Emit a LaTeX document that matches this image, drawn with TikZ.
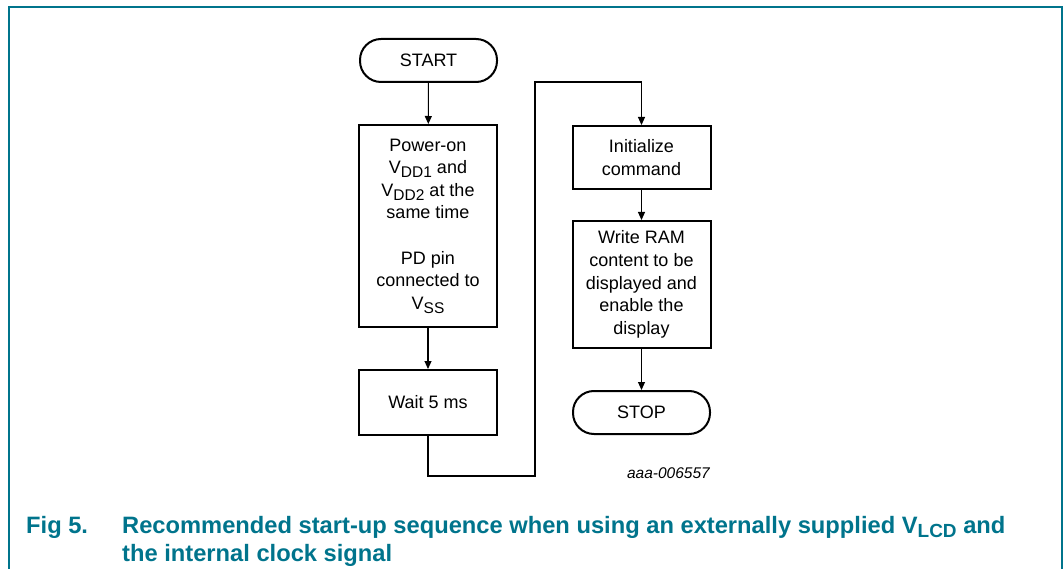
\documentclass[tikz,border=0pt]{standalone}
\usepackage{fontspec}
\setmainfont{Liberation Sans}
\usetikzlibrary{arrows.meta}
\definecolor{nxpteal}{RGB}{0,116,140}
\newcommand{\lsub}[1]{\raisebox{-4pt}{\fontsize{15.5pt}{15.5pt}\selectfont #1}}
\newcommand{\csub}[1]{\raisebox{-4.5pt}{\fontsize{19pt}{19pt}\selectfont #1}}
\begin{document}
\begin{tikzpicture}[x=1pt,y=-1pt,
  box/.style={draw=black,line width=2pt,inner sep=0pt,align=center,
    font=\fontsize{18pt}{22.6pt}\selectfont,minimum width=138pt},
  term/.style={box,rounded corners=21pt,minimum width=137pt,minimum height=43pt},
  conn/.style={draw=black,line width=1.1pt},
  arr/.style={conn,-{Triangle[length=8pt,width=7pt]}},
  captext/.style={anchor=base west,inner sep=0pt,text=nxpteal,font=\bfseries\fontsize{23.7pt}{28pt}\selectfont}]
\useasboundingbox (0,0) rectangle (1063,569);
\draw[nxpteal,line width=2pt] (8.5,569) -- (8.5,7.5) -- (1061.5,7.5) -- (1061.5,569);
\node[term] (start) at (428.5,60.5) {START};
\node[box,minimum height=202pt] (p1) at (428,226) {Power-on\\V\lsub{DD1} and\\V\lsub{DD2} at the\\same time\\[22.6pt]PD pin\\connected to\\V\lsub{SS}};
\node[box,minimum height=65pt] (wait) at (428,402.5) {Wait 5 ms};
\node[box,minimum height=63pt] (init) at (641.5,157.5) {Initialize\\command};
\node[box,minimum height=127pt] (write) at (641.5,284.5) {Write RAM\\content to be\\displayed and\\enable the\\display};
\node[term] (stop) at (641.5,412.5) {STOP};
\coordinate (c1) at (428,476);
\coordinate (c2) at (535,476);
\coordinate (c3) at (535,82);
\coordinate (c4) at (641.5,82);
\draw[arr] (start) -- (p1);
\draw[arr] (p1) -- (wait);
\draw[arr] (wait.south) -- (c1) -- (c2) -- (c3) -- (c4) -- (init.north);
\draw[arr] (init) -- (write);
\draw[arr] (write) -- (stop);
\node[anchor=east,inner sep=0pt,font=\fontsize{15.5pt}{15.5pt}\selectfont\itshape] (id) at (710,473) {aaa-006557};
\node[captext] (fig) at (26,533) {Fig 5.};
\node[captext] (cap1) at (122,533) {Recommended start-up sequence when using an externally supplied V\csub{LCD} and};
\node[captext] (cap2) at (122,561) {the internal clock signal};
\end{tikzpicture}
\end{document}
